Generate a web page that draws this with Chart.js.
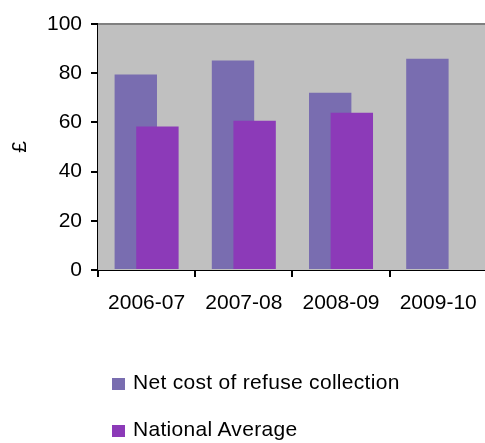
<!DOCTYPE html>
<html>
<head>
<meta charset="utf-8">
<script src="https://cdn.jsdelivr.net/npm/chart.js@4.4.1/dist/chart.umd.min.js"></script>
<style>
  html, body { margin: 0; padding: 0; background: #fff; overflow: hidden; }
  #wrap { position: relative; width: 491px; height: 443px; }
  #legend { position: absolute; left: 0; top: 0; font-family: "Liberation Sans", Arial, sans-serif; font-size: 21px; color: #000; }
  .item { position: absolute; white-space: nowrap; line-height: 21px; letter-spacing: 0.3px; }
  .box { position: absolute; width: 13px; height: 12px; }
</style>
</head>
<body>
<div id="wrap">
  <canvas id="refuseChart" width="491" height="443"></canvas>
  <div id="legend"></div>
</div>
<script>
var categories = ["2006-07", "2007-08", "2008-09", "2009-10"];
var netCost = [79.5, 85.2, 72.1, 85.9];
var nationalAverage = [58.3, 60.7, 63.9, null];

var netColour = "#796db0";
var nationalColour = "#8c3ab8";

// grey plot background, top line, and the back (left) series drawn first
// so the national average bars overlap it like in the original
var plotBackground = {
  id: "plotBackground",
  beforeDatasetsDraw: function(chart) {
    var a = chart.chartArea;
    var c = chart.ctx;
    c.save();
    c.fillStyle = "#c0c0c0";
    c.fillRect(a.left, a.top, chart.width - a.left, a.bottom - a.top);
    c.strokeStyle = "#808080";
    c.lineWidth = 2;
    c.beginPath();
    c.moveTo(a.left, a.top);
    c.lineTo(chart.width, a.top);
    c.stroke();
    c.restore();
    chart.getDatasetMeta(0).controller.draw();
  },
  beforeDatasetDraw: function(chart, args) {
    if (args.index === 0) return false;
  }
};

Chart.defaults.font.family = "'Liberation Sans', Arial, sans-serif";
Chart.defaults.font.size = 21;
Chart.defaults.color = "#000";

var chart = new Chart(document.getElementById("refuseChart").getContext("2d"), {
  type: "bar",
  data: {
    labels: categories,
    datasets: [
      { label: "Net cost of refuse collection", data: netCost, backgroundColor: netColour },
      { label: "National Average", data: nationalAverage, backgroundColor: nationalColour }
    ]
  },
  options: {
    responsive: false,
    animation: false,
    categoryPercentage: 0.445,
    barPercentage: 1.96,
    layout: { padding: { top: 24, right: 2, bottom: 123, left: 0 } },
    plugins: { legend: { display: false }, tooltip: { enabled: false } },
    scales: {
      x: {
        offset: true,
        grid: { offset: true, drawOnChartArea: false, tickLength: 7, color: "#000", lineWidth: 2 },
        border: { color: "#000", width: 2 },
        ticks: { padding: 14, maxRotation: 0 },
        afterFit: function(s) { s.height = 50; }
      },
      y: {
        min: 0,
        max: 100,
        ticks: { stepSize: 20, padding: 9 },
        grid: { drawOnChartArea: false, tickLength: 7, color: "#000", lineWidth: 2 },
        border: { color: "#000", width: 2 },
        title: { display: true, text: "£", padding: { top: 8, bottom: 0 } },
        afterFit: function(s) { s.width = 98; }
      }
    }
  },
  plugins: [plotBackground]
});

// legend as plain html text under the chart
var legend = document.getElementById("legend");
var rows = [378, 425];
chart.data.datasets.forEach(function(d, i) {
  var box = document.createElement("div");
  box.className = "box";
  box.style.left = "112px";
  box.style.top = rows[i] + "px";
  box.style.background = d.backgroundColor;
  var txt = document.createElement("div");
  txt.className = "item";
  txt.style.left = "133px";
  txt.style.top = (rows[i] - 7) + "px";
  txt.textContent = d.label;
  legend.appendChild(box);
  legend.appendChild(txt);
});
</script>
</body>
</html>
